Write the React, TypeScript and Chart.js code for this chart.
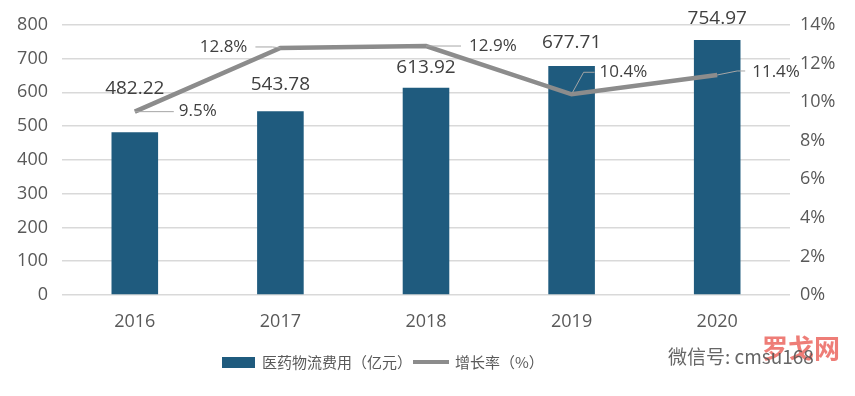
import React, { useEffect, useRef } from "react";
import { Chart, registerables } from "chart.js";

Chart.register(...registerables);

const years = ["2016", "2017", "2018", "2019", "2020"];
const logisticsCost = [482.22, 543.78, 613.92, 677.71, 754.97];
const growthRate = [9.5, 12.8, 12.9, 10.4, 11.4];
const leftTicks = [0, 100, 200, 300, 400, 500, 600, 700, 800];
const rightTicks = [0, 2, 4, 6, 8, 10, 12, 14];
const barLabel = "医药物流费用（亿元）";
const lineLabel = "增长率（%）";

// style: label offsets (pixels) relative to each mark
const barLabelDy = [-44, -27, -20, -24, -21];
const lineLabelStyle = [
  { tx: 44, ty: 0, align: "left", leader: [[0, 0], [39, 0]] },
  { tx: -33, ty: -1, align: "right", leader: [[0, 0], [-8, -1], [-25, -1]] },
  { tx: 43, ty: 0, align: "left", leader: [[0, 0], [35, 0]] },
  { tx: 28, ty: -22, align: "left", leader: [[1, -2], [12, -22], [23, -22]] },
  { tx: 35, ty: -3, align: "left", leader: [[0, 0], [20, -4], [28, -4]] },
];

const FONT = "'Open Sans', 'Noto Sans CJK SC', sans-serif";
const BAR_COLOR = "#1F5B7E";
const LINE_COLOR = "#8C8C8C";
const TEXT_COLOR = "#595959";

const labelsPlugin = {
  id: "customLabels",
  afterDatasetsDraw(chart: any) {
    const ctx = chart.ctx;
    ctx.save();
    const barMeta = chart.getDatasetMeta(0);
    ctx.font = `19px ${FONT}`;
    ctx.fillStyle = "#404040";
    ctx.textAlign = "center";
    ctx.textBaseline = "middle";
    barMeta.data.forEach((el: any, i: number) => {
      ctx.fillText(logisticsCost[i].toFixed(2), el.x, el.y + barLabelDy[i]);
    });
    const lineMeta = chart.getDatasetMeta(1);
    lineMeta.data.forEach((el: any, i: number) => {
      const s = lineLabelStyle[i];
      ctx.strokeStyle = "#A6A6A6";
      ctx.lineWidth = 1;
      ctx.beginPath();
      s.leader.forEach((p, j) => {
        if (j === 0) ctx.moveTo(el.x + p[0], el.y + p[1]);
        else ctx.lineTo(el.x + p[0], el.y + p[1]);
      });
      ctx.stroke();
      ctx.fillStyle = "#404040";
      ctx.font = `17px ${FONT}`;
      ctx.textAlign = s.align;
      ctx.fillText(growthRate[i].toFixed(1) + "%", el.x + s.tx, el.y + s.ty);
    });
    ctx.restore();
  },
  afterDraw(chart: any) {
    const ctx = chart.ctx;
    ctx.save();
    // legend
    const ly = 362;
    ctx.fillStyle = BAR_COLOR;
    ctx.fillRect(222, ly - 5, 33, 11);
    ctx.fillStyle = TEXT_COLOR;
    ctx.font = `15px 'Noto Sans CJK SC', sans-serif`;
    ctx.textBaseline = "middle";
    ctx.textAlign = "left";
    ctx.fillText(barLabel, 262, ly);
    ctx.strokeStyle = LINE_COLOR;
    ctx.lineWidth = 4;
    ctx.beginPath();
    ctx.moveTo(413, ly);
    ctx.lineTo(449, ly);
    ctx.stroke();
    ctx.fillText(lineLabel, 455, ly);
    // watermark
    ctx.globalAlpha = 0.75;
    ctx.fillStyle = "#E8514A";
    ctx.font = `bold 26px 'Noto Sans CJK SC', sans-serif`;
    ctx.fillText("罗戈网", 762, 348);
    ctx.globalAlpha = 0.9;
    ctx.fillStyle = "#555555";
    ctx.font = `19px 'Noto Sans CJK SC', sans-serif`;
    ctx.fillText("微信号: cmsu168", 668, 357);
    ctx.restore();
  },
};

export default function App() {
  const ref = useRef<HTMLCanvasElement>(null);
  useEffect(() => {
    document.body.style.margin = "0";
    const chart = new Chart(ref.current as HTMLCanvasElement, {
      type: "bar",
      data: {
        labels: years,
        datasets: [
          {
            type: "bar",
            label: barLabel,
            data: logisticsCost,
            backgroundColor: BAR_COLOR,
            barPercentage: 0.64,
            categoryPercentage: 0.5,
            yAxisID: "y",
            order: 2,
          },
          {
            type: "line",
            label: lineLabel,
            data: growthRate,
            borderColor: LINE_COLOR,
            backgroundColor: LINE_COLOR,
            borderWidth: 4.5,
            pointRadius: 0,
            yAxisID: "y1",
            order: 1,
          } as any,
        ],
      },
      options: {
        responsive: false,
        animation: false,
        layout: { padding: { top: 14, bottom: 53, left: 0, right: 0 } },
        plugins: {
          tooltip: { enabled: false },
          legend: { display: false },
        },
        scales: {
          x: {
            grid: { display: false },
            border: { display: false },
            ticks: { color: TEXT_COLOR, font: { family: FONT, size: 18 }, padding: 8 },
            afterFit: (s: any) => { s.height = 48; },
          },
          y: {
            position: "left",
            min: 0,
            max: 800,
            afterBuildTicks: (s: any) => { s.ticks = leftTicks.map((v) => ({ value: v })); },
            ticks: { color: TEXT_COLOR, font: { family: FONT, size: 18 }, padding: 14 },
            grid: { color: "#D9D9D9", lineWidth: 1.5, drawTicks: false },
            border: { display: false },
            afterFit: (s: any) => { s.width = 62; },
          },
          y1: {
            position: "right",
            min: 0,
            max: 14,
            afterBuildTicks: (s: any) => { s.ticks = rightTicks.map((v) => ({ value: v })); },
            ticks: {
              color: TEXT_COLOR,
              font: { family: FONT, size: 18 },
              padding: 10,
              callback: (v: any) => v + "%",
            },
            grid: { display: false, drawTicks: false },
            border: { display: false },
            afterFit: (s: any) => { s.width = 65; },
          },
        },
      },
      plugins: [labelsPlugin],
    } as any);
    return () => chart.destroy();
  }, []);
  return (
    <div style={{ width: 855, height: 396, background: "#fff" }}>
      <canvas ref={ref} width={855} height={396} />
    </div>
  );
}
